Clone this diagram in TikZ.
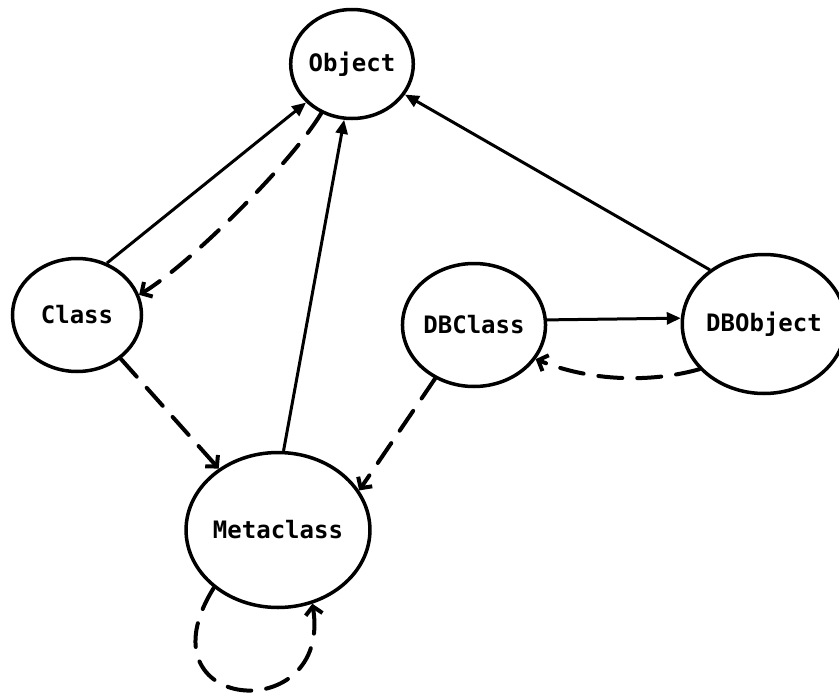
\documentclass[tikz,border=0pt]{standalone}
\usepackage{fontspec}
\newfontfamily\classfont{DejaVu Sans Mono}
\usetikzlibrary{shapes.geometric,arrows.meta}

\begin{document}
\begin{tikzpicture}[x=1pt,y=-1pt,
  class/.style={
    draw, ellipse, line width=3.5pt, inner sep=0pt,
    font=\classfont\bfseries\fontsize{24}{28}\selectfont,
  },
  isa/.style={line width=3pt, -{Triangle[length=14pt,width=12pt]}},
  inst/.style={line width=4pt, dash pattern=on 24pt off 15pt, line cap=round,
    -{Straight Barb[length=8pt,width=17pt]}},
  ]
  \useasboundingbox (0,0) rectangle (839,699);
  \coordinate (o) at (352,64);
  \coordinate (c) at (77,315);
  \coordinate (m) at (278,530);
  \coordinate (dc) at (474,325);
  \coordinate (do) at (764,324);
  \node[class, minimum width=115pt, minimum height=109pt] (Object) at (o) {Object};
  \node[class, minimum width=129pt, minimum height=113pt] (Class) at (c) {Class};
  \node[class, minimum width=163pt, minimum height=155pt] (Metaclass) at (m) {Metaclass};
  \node[class, minimum width=125pt, minimum height=123pt] (DBClass) at (dc) {DBClass};
  \node[class, minimum width=145pt, minimum height=139pt] (DBObject) at (do) {DBObject};
  % subclass links
  \draw[isa] (Class.60) -- (Object.220);
  \draw[isa] (Metaclass.86) -- (Object.262);
  \draw[isa] (DBObject.135) -- (Object.330);
  \draw[isa] (DBClass.4) -- (DBObject.176);
  % instance links
  \draw[inst] (Object.238) .. controls +(-30,50) and +(50,-30) .. (Class.18);
  \draw[inst] (Class.315) -- (Metaclass.134);
  \draw[inst] (DBClass.234) -- (Metaclass.26);
  \draw[inst] (DBObject.215) .. controls +(-50,14) and +(55,22) .. (DBClass.331);
  \draw[inst] (Metaclass.222) .. controls +(-78,125) and +(20,125) .. (Metaclass.295);
\end{tikzpicture}
\end{document}
